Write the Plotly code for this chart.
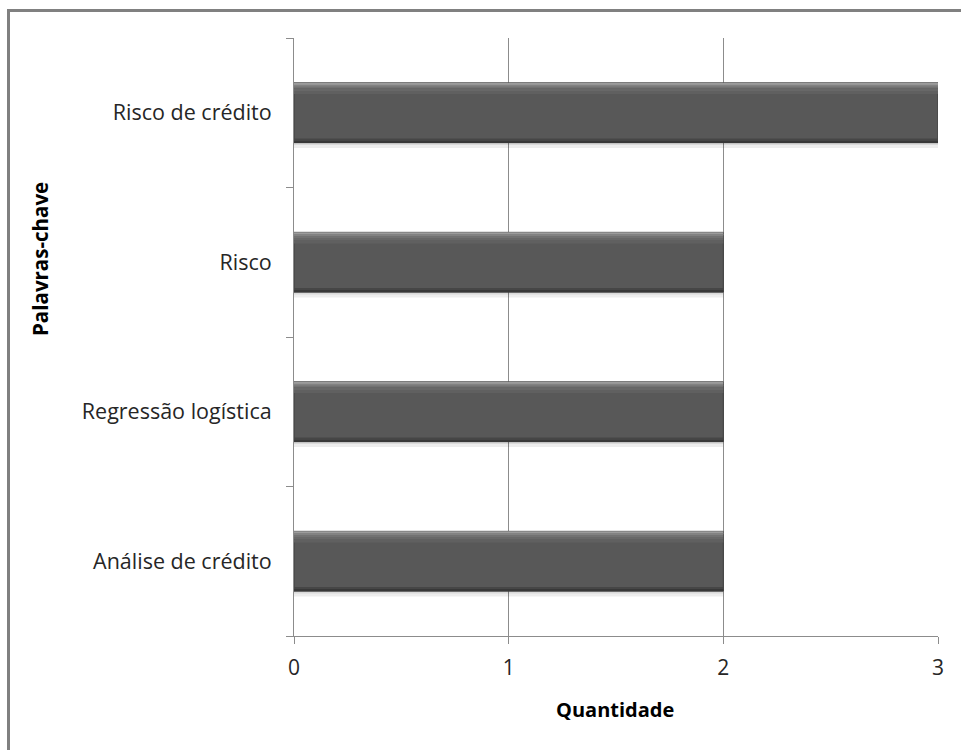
import plotly.graph_objects as go

# Keyword frequency data
categorias = ["Análise de crédito", "Regressão logística", "Risco", "Risco de crédito"]
quantidades = [2, 2, 2, 3]
x_ticks = [0, 1, 2, 3]

W, H = 961, 750
L, R, T, B = 294, 23, 38, 114
pw, ph = W - L - R, H - T - B

def px_x(p):
    return (p - L) / pw

def px_y(p):
    return (H - B - p) / ph

fig = go.Figure()

def add_band(offset, width, color, line=None):
    fig.add_trace(go.Bar(
        y=categorias, x=quantidades, orientation="h",
        width=width, offset=offset,
        marker=dict(color=color, line=line or dict(width=0)),
        hoverinfo="skip", showlegend=False,
    ))

# soft drop shadow under each bar
add_band(-0.235, 0.04, "rgba(0,0,0,0.07)")
add_band(-0.215, 0.02, "rgba(0,0,0,0.08)")

# main bar body
fig.add_trace(go.Bar(
    y=categorias, x=quantidades, orientation="h",
    width=0.4, offset=-0.2,
    marker=dict(color="#585858", line=dict(color="#3e3e3e", width=1)),
    showlegend=False,
))

# bevel shading: light top edge fading into the body, darker bottom edge
bevel = [
    (0.188, 0.012, "#9c9c9c"),
    (0.176, 0.012, "#828282"),
    (0.162, 0.014, "#727272"),
    (0.146, 0.016, "#686868"),
    (0.126, 0.020, "#606060"),
    (-0.188, 0.016, "#464646"),
    (-0.199, 0.011, "#383838"),
]
for off, wd, col in bevel:
    add_band(off, wd, col)

font_fam = "'Open Sans', sans-serif"

fig.update_layout(
    width=W, height=H,
    margin=dict(l=L, r=R, t=T, b=B),
    paper_bgcolor="white", plot_bgcolor="white",
    barmode="overlay",
    font=dict(family=font_fam, size=21, color="#262626"),
    xaxis=dict(
        range=[0, 3], tickvals=x_ticks, ticktext=[str(v) for v in x_ticks],
        showgrid=True, gridcolor="#8c8c8c", gridwidth=1,
        showline=True, linecolor="#8c8c8c", linewidth=1,
        ticks="outside", ticklen=7, tickcolor="#8c8c8c",
        ticklabelstandoff=6,
        zeroline=False, fixedrange=True,
        tickfont=dict(size=21, color="#262626"),
    ),
    yaxis=dict(
        categoryorder="array", categoryarray=categorias,
        showgrid=False, showline=True, linecolor="#8c8c8c", linewidth=1,
        ticks="outside", tickson="boundaries", ticklen=7, tickcolor="#8c8c8c",
        ticklabelstandoff=17,
        tickfont=dict(size=21.5, color="#262626"),
        range=[-0.5, 3.5],
    ),
)

# axis titles
fig.add_annotation(
    text="<b>Quantidade</b>", xref="paper", yref="paper",
    x=px_x(615), y=px_y(709), xanchor="center", yanchor="middle",
    showarrow=False,
    font=dict(size=20, color="#000000", family=font_fam),
)
fig.add_annotation(
    text="<b>Palavras-chave</b>", xref="paper", yref="paper",
    x=px_x(40), y=px_y(259), xanchor="center", yanchor="middle",
    showarrow=False, textangle=-90,
    font=dict(size=20.5, color="#000000", family=font_fam),
)

# chart-area frame
fig.add_shape(
    type="rect", xref="paper", yref="paper",
    x0=px_x(8.5), x1=px_x(1000), y0=px_y(790), y1=px_y(10.5),
    line=dict(color="#808080", width=3), fillcolor="rgba(0,0,0,0)",
    layer="above",
)

fig.write_html("out.html")
